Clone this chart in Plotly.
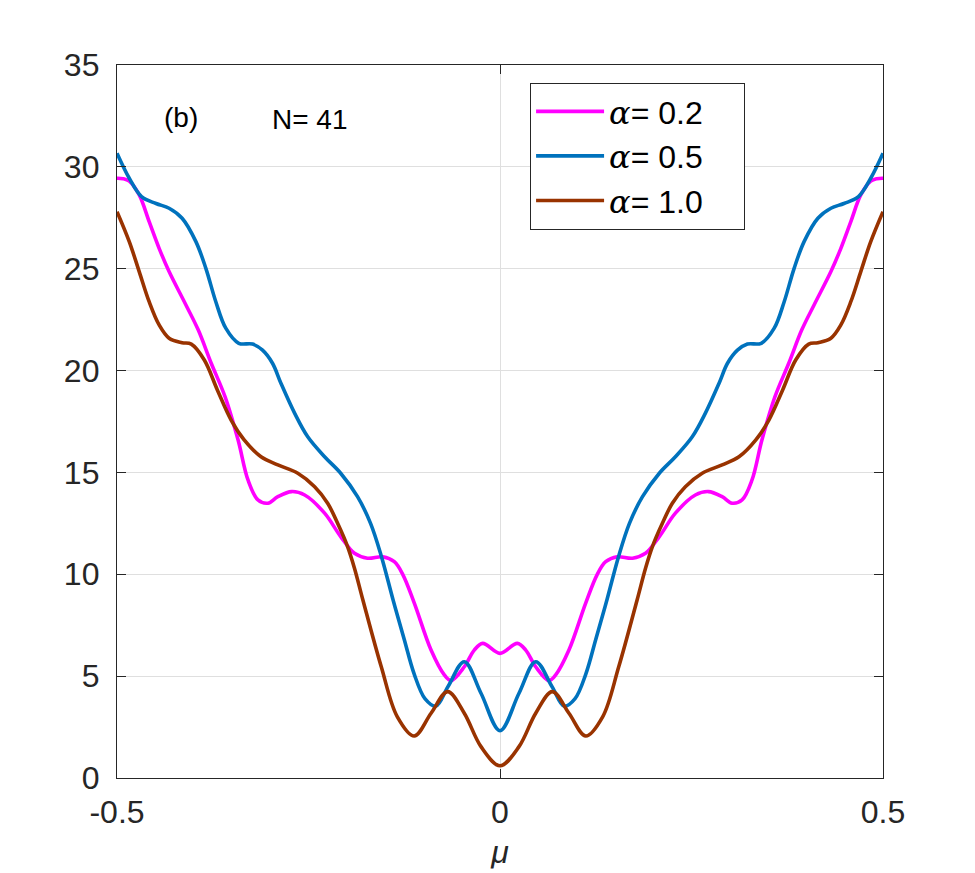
import plotly.graph_objects as go

# ---- data ----
mu_02 = [-0.5, -0.492, -0.484, -0.471, -0.458, -0.445, -0.432, -0.41, -0.394, -0.377,
         -0.359, -0.342, -0.329, -0.316, -0.303, -0.29, -0.272, -0.255, -0.229, -0.208,
         -0.19, -0.173, -0.153, -0.138, -0.127, -0.112, -0.09, -0.0727, -0.064, -0.0466,
         -0.0336, -0.0226, 0.0,
         0.0226, 0.0336, 0.0466, 0.064, 0.0727, 0.09, 0.112, 0.127, 0.138,
         0.153, 0.173, 0.19, 0.208, 0.229, 0.255, 0.272, 0.29, 0.303, 0.316,
         0.329, 0.342, 0.359, 0.377, 0.394, 0.41, 0.432, 0.445, 0.458, 0.471,
         0.484, 0.492, 0.5]
alpha_02 = [29.44, 29.42, 29.3, 28.62, 27.31, 26.0, 24.86, 23.22, 22.0, 20.36,
            18.72, 16.6, 14.63, 13.65, 13.49, 13.81, 14.06, 13.89, 13.0, 11.85,
            11.03, 10.79, 10.86, 10.62, 10.0, 8.6, 6.28, 5.06, 4.78, 5.46,
            6.28, 6.61, 6.12,
            6.61, 6.28, 5.46, 4.78, 5.06, 6.28, 8.6, 10.0, 10.62,
            10.86, 10.79, 11.03, 11.85, 13.0, 13.89, 14.06, 13.81, 13.49, 13.65,
            14.63, 16.6, 18.72, 20.36, 22.0, 23.22, 24.86, 26.0, 27.31, 28.62,
            29.3, 29.42, 29.44]

mu_05 = [-0.5, -0.484, -0.468, -0.449, -0.432, -0.415, -0.397, -0.384, -0.371, -0.358,
         -0.341, -0.323, -0.31, -0.297, -0.286, -0.268, -0.251, -0.229, -0.208, -0.186,
         -0.169, -0.155, -0.14, -0.125, -0.112, -0.098, -0.0836, -0.068, -0.0466,
         -0.0248, 0.0,
         0.0248, 0.0466, 0.068, 0.0836, 0.098, 0.112, 0.125, 0.14, 0.155,
         0.169, 0.186, 0.208, 0.229, 0.251, 0.268, 0.286, 0.297, 0.31,
         0.323, 0.341, 0.358, 0.371, 0.384, 0.397, 0.415, 0.432, 0.449, 0.468,
         0.484, 0.5]
alpha_05 = [30.67, 29.44, 28.54, 28.2, 27.97, 27.48, 26.33, 25.02, 23.38, 22.08,
            21.34, 21.3, 21.0, 20.36, 19.38, 17.9, 16.75, 15.77, 14.96, 13.81,
            12.5, 10.9, 8.8, 6.8, 5.1, 3.9, 3.53, 4.48, 5.71,
            4.16, 2.32,
            4.16, 5.71, 4.48, 3.53, 3.9, 5.1, 6.8, 8.8, 10.9,
            12.5, 13.81, 14.96, 15.77, 16.75, 17.9, 19.38, 20.36, 21.0,
            21.3, 21.34, 22.08, 23.38, 25.02, 26.33, 27.48, 27.97, 28.2, 28.54,
            29.44, 30.67]

mu_10 = [-0.5, -0.484, -0.471, -0.458, -0.445, -0.432, -0.415, -0.403, -0.386, -0.369,
         -0.351, -0.334, -0.312, -0.29, -0.264, -0.242, -0.225, -0.212, -0.199, -0.19,
         -0.179, -0.155, -0.134, -0.112, -0.09, -0.0683, -0.0466, -0.0248, 0.0,
         0.0248, 0.0466, 0.0683, 0.09, 0.112, 0.134, 0.155, 0.179, 0.19,
         0.199, 0.212, 0.225, 0.242, 0.264, 0.29, 0.312, 0.334, 0.351, 0.369,
         0.386, 0.403, 0.415, 0.432, 0.445, 0.458, 0.471, 0.484, 0.5]
alpha_10 = [27.8, 26.33, 24.86, 23.38, 22.24, 21.59, 21.37, 21.3, 20.52, 19.05,
            17.57, 16.6, 15.77, 15.37, 14.96, 14.3, 13.49, 12.5, 11.36, 10.3,
            8.74, 5.46, 3.0, 2.06, 3.18, 4.24, 3.18, 1.54, 0.6,
            1.54, 3.18, 4.24, 3.18, 2.06, 3.0, 5.46, 8.74, 10.3,
            11.36, 12.5, 13.49, 14.3, 14.96, 15.37, 15.77, 16.6, 17.57, 19.05,
            20.52, 21.3, 21.37, 21.59, 22.24, 23.38, 24.86, 26.33, 27.8]

series_names = ["= 0.2", "= 0.5", "= 1.0"]
series_x = [mu_02, mu_05, mu_10]
series_y = [alpha_02, alpha_05, alpha_10]
series_colors = ["#FF00FF", "#0072BD", "#993300"]

x_ticks = [-0.5, 0, 0.5]
x_tick_labels = ["-0.5", "0", "0.5"]
y_ticks = [0, 5, 10, 15, 20, 25, 30, 35]

FONT = "Liberation Sans, Arial, sans-serif"
AX = "#262626"
ALPHA = "<span style=\"font-family:'DejaVu Serif';font-style:italic\">α</span>"

fig = go.Figure()
for name, xs, ys, col in zip(series_names, series_x, series_y, series_colors):
    fig.add_trace(go.Scatter(x=xs, y=ys, mode="lines",
                             name=ALPHA + name + "&nbsp;&nbsp;&nbsp;&nbsp;",
                             line=dict(color=col, width=3.6, shape="spline", smoothing=1.0)))

fig.update_layout(
    width=975, height=873,
    margin=dict(l=117, r=92, t=65, b=95, autoexpand=False),
    paper_bgcolor="white", plot_bgcolor="white",
    font=dict(family=FONT, color=AX),
    legend=dict(x=0.539, y=0.975, xanchor="left", yanchor="top",
                bordercolor=AX, borderwidth=1.2, bgcolor="white",
                font=dict(size=32, color="black", family=FONT),
                itemwidth=68, tracegroupgap=0),
    xaxis=dict(range=[-0.5, 0.5], tickvals=x_ticks, ticktext=x_tick_labels,
               automargin=False,
               showgrid=True, gridcolor="#DFDFDF", gridwidth=1,
               zeroline=False, showline=True, linecolor=AX, linewidth=1.3,
               mirror="ticks", ticks="inside", ticklen=9, tickcolor=AX,
               ticklabelstandoff=5,
               tickfont=dict(size=32, color=AX),
               title=dict(text="<i>μ</i>", font=dict(size=32, color=AX), standoff=12)),
    yaxis=dict(range=[0, 35], tickvals=y_ticks,
               automargin=False,
               showgrid=True, gridcolor="#DFDFDF", gridwidth=1,
               zeroline=False, showline=True, linecolor=AX, linewidth=1.3,
               mirror="ticks", ticks="inside", ticklen=9, tickcolor=AX,
               ticklabelstandoff=10,
               tickfont=dict(size=32, color=AX)),
    annotations=[
        dict(text="(b)", x=0.0832, y=0.926, xref="paper", yref="paper",
             xanchor="center", yanchor="middle",
             showarrow=False, font=dict(size=28, color="black")),
        dict(text="N= 41", x=0.252, y=0.923, xref="paper", yref="paper",
             xanchor="center", yanchor="middle",
             showarrow=False, font=dict(size=28, color="black")),
    ],
)

fig.write_html("out.html")
